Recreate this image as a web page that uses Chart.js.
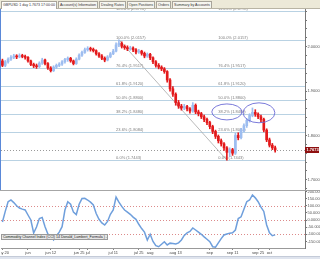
<!DOCTYPE html>
<html>
<head>
<meta charset="utf-8">
<script src="https://cdn.jsdelivr.net/npm/chart.js@4.4.1/dist/chart.umd.min.js"></script>
<style>
    html, body { margin: 0; padding: 0; background: #fff; }
    body { width: 320px; height: 259px; position: relative; overflow: hidden; font-family: "Liberation Sans", Arial, sans-serif; }
    #tabs { position: absolute; left: 0; top: 0; width: 320px; height: 9px; background: #ece9d8; border-bottom: 1px solid #b8b4a4; box-sizing: border-box; white-space: nowrap; }
    .tab { display: inline-block; vertical-align: top; height: 7px; margin: 1px 0 0 1px; padding: 0 1px; font-size: 3.6px; line-height: 7px; color: #333; background: #f6f5ef; border: 1px solid #a8a49a; border-bottom: none; box-sizing: border-box; }
    .tab.active { background: #fff; height: 8px; }
    #pricePane { position: absolute; left: 0; top: 9px; width: 320px; height: 181px; border-left: 1px solid #5a88d8; box-sizing: border-box; }
    #cciPane { position: absolute; left: 0; top: 190px; width: 320px; height: 66px; border-top: 1px solid #a6a6a6; box-sizing: border-box; padding-left: 1px; }
    canvas { display: block; }
    #cciLabel { position: absolute; left: 1px; top: 234px; width: 107px; height: 6px; box-sizing: border-box; background: #e6e6e6; border: 1px solid #9a9a9a; font-size: 3.6px; line-height: 4px; color: #222; white-space: nowrap; overflow: hidden; padding-left: 1px; }
    #statusBar { position: absolute; left: 0; top: 256px; width: 320px; height: 3px; background: #dfe4ee; border-top: 1px solid #c4cbd8; box-sizing: border-box; }
</style>
</head>
<body>
<div id="tabs">
    <span class="tab active">GBPUSD 1 day 1.7673 17:00:00</span><span class="tab">Account(s) Information</span><span class="tab">Dealing Rates</span><span class="tab">Open Positions</span><span class="tab">Orders</span><span class="tab">Summary by Accounts</span>
</div>
<div id="pricePane"><canvas id="priceChart" width="319" height="181"></canvas></div>
<div id="cciPane"><canvas id="cciChart" width="319" height="65"></canvas></div>
<div id="cciLabel">Commodity Channel Index (CCI) 14 Donald_Lambert_Formula ) -103.9334%</div>
<div id="statusBar"></div>
<script>
// date axis: 97 daily bars plus empty room on the right
const slotCount = 107;
const xTickIndex = [0, 9, 17, 27, 30, 39, 48, 52, 61, 73, 81, 90, 94];
const xTickText = ["may 20", "jun", "jun 12", "jun 25", "jul", "jul 11", "jul 25", "aug", "aug 13", "sep", "sep 11", "sep 25", "oct"];

const opens = [
    1.968, 1.958, 1.966, 1.972, 1.976, 1.979, 1.977, 1.980, 1.978, 1.976,
    1.968, 1.960, 1.957, 1.955, 1.963, 1.970, 1.962, 1.952, 1.946, 1.954,
    1.958, 1.961, 1.966, 1.971, 1.974, 1.968, 1.962, 1.972, 1.981, 1.987,
    1.993, 1.996, 1.994, 1.991, 1.984, 1.979, 1.974, 1.970, 1.977, 1.984,
    1.990, 2.004, 2.008, 2.001, 1.998, 1.995, 1.997, 1.993, 1.988, 1.990,
    1.985, 1.979, 1.983, 1.975, 1.966, 1.958, 1.954, 1.950, 1.944, 1.925,
    1.905, 1.893, 1.874, 1.866, 1.862, 1.865, 1.860, 1.855, 1.868, 1.853,
    1.849, 1.842, 1.836, 1.829, 1.820, 1.809, 1.798, 1.788, 1.781, 1.772,
    1.762, 1.768, 1.760, 1.800, 1.795, 1.812, 1.822, 1.834, 1.845, 1.852,
    1.848, 1.842, 1.836, 1.812, 1.790, 1.778, 1.772,
];
const highs = [
    1.972, 1.969, 1.975, 1.980, 1.983, 1.982, 1.984, 1.983, 1.981, 1.978,
    1.970, 1.963, 1.961, 1.966, 1.974, 1.972, 1.964, 1.955, 1.957, 1.961,
    1.964, 1.969, 1.974, 1.977, 1.976, 1.970, 1.975, 1.984, 1.990, 1.997,
    2.000, 1.999, 1.997, 1.993, 1.987, 1.982, 1.977, 1.980, 1.987, 1.994,
    2.009, 2.0157, 2.011, 2.004, 2.002, 2.001, 2.000, 1.996, 1.994, 1.992,
    1.988, 1.986, 1.985, 1.977, 1.969, 1.962, 1.957, 1.953, 1.946, 1.928,
    1.910, 1.896, 1.879, 1.870, 1.870, 1.868, 1.863, 1.874, 1.871, 1.857,
    1.852, 1.846, 1.839, 1.832, 1.823, 1.812, 1.801, 1.792, 1.784, 1.775,
    1.772, 1.771, 1.805, 1.806, 1.816, 1.826, 1.838, 1.849, 1.862, 1.858,
    1.851, 1.846, 1.839, 1.815, 1.794, 1.782, 1.776,
];
const lows = [
    1.955, 1.955, 1.963, 1.969, 1.973, 1.973, 1.975, 1.975, 1.972, 1.965,
    1.957, 1.953, 1.951, 1.953, 1.960, 1.959, 1.949, 1.943, 1.944, 1.951,
    1.955, 1.958, 1.963, 1.967, 1.965, 1.959, 1.960, 1.970, 1.978, 1.985,
    1.990, 1.990, 1.988, 1.981, 1.976, 1.971, 1.966, 1.968, 1.975, 1.982,
    1.988, 2.000, 1.997, 1.994, 1.991, 1.992, 1.989, 1.984, 1.985, 1.981,
    1.975, 1.976, 1.971, 1.962, 1.954, 1.950, 1.946, 1.940, 1.920, 1.900,
    1.888, 1.868, 1.861, 1.857, 1.858, 1.855, 1.850, 1.852, 1.849, 1.844,
    1.838, 1.831, 1.824, 1.815, 1.804, 1.793, 1.783, 1.776, 1.766, 1.7443,
    1.752, 1.755, 1.757, 1.790, 1.792, 1.808, 1.818, 1.830, 1.842, 1.843,
    1.838, 1.830, 1.808, 1.786, 1.774, 1.768, 1.762,
];
const closes = [
    1.958, 1.966, 1.972, 1.976, 1.979, 1.977, 1.980, 1.978, 1.976, 1.968,
    1.960, 1.957, 1.955, 1.963, 1.970, 1.962, 1.952, 1.946, 1.954, 1.958,
    1.961, 1.966, 1.971, 1.974, 1.968, 1.962, 1.972, 1.981, 1.987, 1.993,
    1.996, 1.994, 1.991, 1.984, 1.979, 1.974, 1.970, 1.977, 1.984, 1.990,
    2.004, 2.008, 2.001, 1.998, 1.995, 1.997, 1.993, 1.988, 1.990, 1.985,
    1.979, 1.983, 1.975, 1.966, 1.958, 1.954, 1.950, 1.944, 1.925, 1.905,
    1.893, 1.874, 1.866, 1.862, 1.865, 1.860, 1.855, 1.868, 1.853, 1.849,
    1.842, 1.836, 1.829, 1.820, 1.809, 1.798, 1.788, 1.781, 1.772, 1.762,
    1.768, 1.760, 1.800, 1.795, 1.812, 1.822, 1.834, 1.845, 1.852, 1.848,
    1.842, 1.836, 1.812, 1.790, 1.778, 1.772, 1.7673,
];

const cciValues = [
    -14, 60, 128, 140, 122, 100, 84, 76, 70, 35,
    0, -91, -49, 10, 18, -47, -98, -112, -140, -110,
    -85, -47, 70, 128, 110, 55, 38, 110, 150, 152,
    140, 125, 105, 45, 5, -20, -35, -10, 40, 70,
    160, 125, 95, 70, 55, 40, 20, 5, -30, -60,
    -85, -140, -100, -150, -180, -187, -170, -152, -175, -162,
    -165, -168, -160, -140, -108, -90, -80, -56, -70, -85,
    -100, -118, -135, -152, -187, -190, -160, -130, -105, -98,
    -92, -90, -70, 10, 22, 75, 128, 140, 175, 155,
    128, 90, 60, -35, -90, -110, -104,
];

const priceTicks = [1.70, 1.75, 1.80, 1.85, 1.90, 1.95, 2.00, 2.05];
const cciTicks = [200, 150, 100, 50, 0, -50, -100, -150];
const cciLevels = [100, 0, -100];

// Fibonacci retracement drawn from the July high to the September low
const fibPercents = [0, 23.6, 38.2, 50, 61.8, 76.4, 100, 123.6];
const fibPrices = [1.7443, 1.8084, 1.8480, 1.8800, 1.9120, 1.9517, 2.0157, 2.0798];
const fibLabelBars = [40, 76];
const trendFrom = [41, 2.0157];
const trendTo = [79, 1.7443];
const lastPrice = 1.7673;

// hand-drawn circles: centre bar / price and half-size in bars / price
const circleBars = [79, 90.3];
const circlePrices = [1.853, 1.851];
const circleHalfBars = [5.3, 5.6];
const circleHalfPrices = [0.018, 0.0225];

const UP = "#9dbdf0";
const DOWN = "#e3191b";
const FONT = { family: "'Liberation Sans', Arial, sans-serif", size: 4 };

const xLabels = Array.from({ length: slotCount }, (_, i) => {
    const k = xTickIndex.indexOf(i);
    return k >= 0 ? xTickText[k] : "";
});
const candleColors = closes.map((c, i) => (c >= opens[i] ? UP : DOWN));

function fixedWidth(width) {
    return (scale) => {
        scale.width = width;
        scale.paddingTop = 0;
        scale.paddingBottom = 0;
    };
}

const priceOverlay = {
    id: "priceOverlay",
    beforeDatasetsDraw(chart) {
        const { ctx, chartArea: a, scales: { x, y } } = chart;
        ctx.save();
        ctx.font = `${FONT.size}px ${FONT.family}`;
        ctx.textBaseline = "bottom";
        fibPrices.forEach((price, k) => {
            const py = Math.round(y.getPixelForValue(price)) + 0.5;
            ctx.strokeStyle = "#b9d2e3";
            ctx.lineWidth = 1;
            ctx.beginPath();
            ctx.moveTo(a.left, py);
            ctx.lineTo(a.right, py);
            ctx.stroke();
            ctx.fillStyle = "#7d7d7d";
            const text = `${fibPercents[k].toFixed(1)}% (${price.toFixed(4)})`;
            fibLabelBars.forEach((bar) => ctx.fillText(text, x.getPixelForValue(bar), py - 1));
        });

        ctx.strokeStyle = "#a8a8a8";
        ctx.lineWidth = 0.8;
        ctx.beginPath();
        ctx.moveTo(x.getPixelForValue(trendFrom[0]), y.getPixelForValue(trendFrom[1]));
        ctx.lineTo(x.getPixelForValue(trendTo[0]), y.getPixelForValue(trendTo[1]));
        ctx.stroke();

        const ly = Math.round(y.getPixelForValue(lastPrice)) + 0.5;
        ctx.strokeStyle = "#9a9a9a";
        ctx.lineWidth = 1;
        ctx.setLineDash([1, 2]);
        ctx.beginPath();
        ctx.moveTo(a.left, ly);
        ctx.lineTo(a.right, ly);
        ctx.stroke();
        ctx.restore();
    },
    afterDatasetsDraw(chart) {
        const { ctx, scales: { x, y } } = chart;
        ctx.save();
        ctx.strokeStyle = "#6b6bd6";
        ctx.lineWidth = 0.9;
        circleBars.forEach((bar, k) => {
            const cx = x.getPixelForValue(bar);
            const cy = y.getPixelForValue(circlePrices[k]);
            const rx = x.getPixelForValue(bar + circleHalfBars[k]) - cx;
            const ry = y.getPixelForValue(circlePrices[k] - circleHalfPrices[k]) - cy;
            ctx.beginPath();
            ctx.ellipse(cx, cy, rx, ry, 0, 0, Math.PI * 2);
            ctx.stroke();
        });
        ctx.restore();
    },
    afterDraw(chart) {
        const { ctx, chartArea: a, scales: { y } } = chart;
        const ly = Math.round(y.getPixelForValue(lastPrice));
        ctx.save();
        ctx.fillStyle = "#8f1010";
        ctx.fillRect(a.right, ly - 3, chart.width - a.right - 1, 6);
        ctx.fillStyle = "#fff";
        ctx.font = `bold ${FONT.size}px ${FONT.family}`;
        ctx.textBaseline = "middle";
        ctx.fillText(lastPrice.toFixed(4), a.right + 1.5, ly);
        ctx.restore();
    },
};

const cciOverlay = {
    id: "cciOverlay",
    beforeDatasetsDraw(chart) {
        const { ctx, chartArea: a, scales: { y } } = chart;
        ctx.save();
        ctx.strokeStyle = "#dc8a8a";
        ctx.lineWidth = 1;
        ctx.setLineDash([1, 2]);
        cciLevels.forEach((level) => {
            const py = Math.round(y.getPixelForValue(level)) + 0.5;
            ctx.beginPath();
            ctx.moveTo(a.left, py);
            ctx.lineTo(a.right, py);
            ctx.stroke();
        });
        ctx.restore();
    },
};

const common = {
    responsive: false,
    animation: false,
    events: [],
    layout: { padding: 0 },
    plugins: { legend: { display: false }, tooltip: { enabled: false } },
};

new Chart(document.getElementById("priceChart"), {
    type: "bar",
    data: {
        labels: xLabels,
        datasets: [
            {
                data: opens.map((o, i) => [o, closes[i]]),
                backgroundColor: candleColors,
                barThickness: 2,
                minBarLength: 1,
                grouped: false,
            },
            {
                data: lows.map((l, i) => [l, highs[i]]),
                backgroundColor: candleColors,
                barThickness: 1,
                grouped: false,
            },
        ],
    },
    options: {
        ...common,
        scales: {
            x: { display: false, offset: true },
            y: {
                position: "right",
                min: 1.677,
                max: 2.085,
                afterBuildTicks: (scale) => {
                    const ticks = [];
                    for (let v = 168; v <= 208; v++) ticks.push({ value: v / 100 });
                    scale.ticks = ticks;
                },
                afterFit: fixedWidth(15),
                ticks: {
                    font: FONT,
                    color: "#555",
                    padding: 0.5,
                    callback: (v) => (priceTicks.some((t) => Math.abs(t - v) < 1e-6) ? v.toFixed(4) : ""),
                },
                grid: { drawOnChartArea: false, tickLength: 2, color: "#777" },
                border: { color: "#777" },
            },
        },
    },
    plugins: [priceOverlay],
});

new Chart(document.getElementById("cciChart"), {
    type: "line",
    data: {
        labels: xLabels,
        datasets: [{
            data: cciValues,
            borderColor: "#6f9fdc",
            borderWidth: 1.5,
            pointRadius: 0,
            tension: 0,
        }],
    },
    options: {
        ...common,
        scales: {
            x: {
                offset: true,
                afterBuildTicks: (scale) => {
                    scale.ticks = xTickIndex.map((v) => ({ value: v }));
                },
                afterFit: (scale) => {
                    scale.height = 8;
                    scale.paddingLeft = 0;
                    scale.paddingRight = 0;
                },
                ticks: {
                    autoSkip: false,
                    maxRotation: 0,
                    font: FONT,
                    color: "#444",
                    padding: 0.5,
                    callback: (v) => xLabels[v],
                },
                grid: { drawOnChartArea: false, tickLength: 2, color: "#888" },
                border: { color: "#999" },
            },
            y: {
                position: "right",
                min: -196,
                max: 203,
                afterBuildTicks: (scale) => {
                    scale.ticks = cciTicks.map((v) => ({ value: v }));
                },
                afterFit: fixedWidth(15),
                ticks: { font: FONT, color: "#555", padding: 0.5, callback: (v) => v.toFixed(4) },
                grid: { drawOnChartArea: false, tickLength: 2, color: "#777" },
                border: { color: "#777" },
            },
        },
    },
    plugins: [cciOverlay],
});
</script>
</body>
</html>
